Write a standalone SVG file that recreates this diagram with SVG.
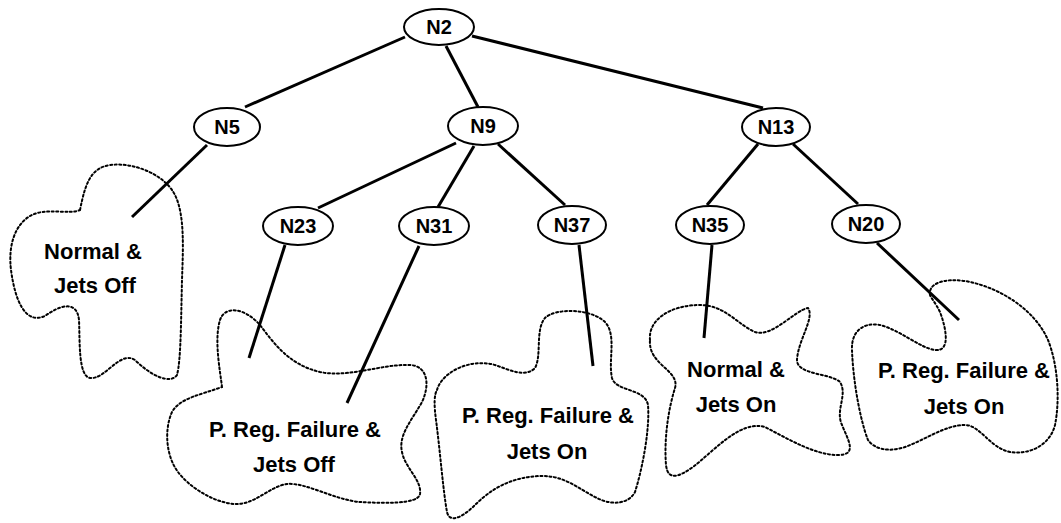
<svg xmlns="http://www.w3.org/2000/svg" width="1061" height="523" viewBox="0 0 1061 523">
<style>
.bg{fill:#fff}
.node ellipse{fill:#fff;stroke:#000;stroke-width:2}
.lbl{font-family:"Liberation Sans",Arial,sans-serif;font-weight:bold;font-size:20px;text-anchor:middle;fill:#000}
.leaf{font-family:"Liberation Sans",Arial,sans-serif;font-weight:bold;font-size:22px;text-anchor:middle;fill:#000}
.blob{fill:none;stroke:#000;stroke-width:2;stroke-dasharray:2 2.5;stroke-linecap:round}
.edge{stroke:#000;stroke-width:3;fill:none}
</style>
<rect class="bg" x="0" y="0" width="1061" height="523"/>
<g id="regions">
  <g id="region-normal-jets-off">
    <path class="blob" d="M80,210 C85,185 90,168 110,165 C135,162 165,175 175,195 C185,215 183,250 182,280 C181,320 181,360 177,375 C170,385 150,375 135,360 C120,350 105,380 90,378 C78,376 80,340 79,320 C77,300 60,305 45,316 C25,325 15,300 11,270 C8,245 15,225 30,216 C45,207 70,215 80,210 Z"/>
    <text class="leaf" x="93" y="259">Normal &amp;</text>
    <text class="leaf" x="95" y="293">Jets Off</text>
  </g>
  <g id="region-preg-jets-off">
    <path class="blob" d="M222,387 C220,370 214,340 220,320 C225,305 245,308 260,325 C275,345 290,365 320,372 C350,378 380,364 410,365 C428,366 430,385 422,402 C412,420 398,435 402,452 C405,468 422,480 420,494 C418,505 380,503 360,502 C335,500 305,482 287,484 C270,486 255,505 235,504 C215,503 190,488 178,472 C166,456 164,430 172,412 C180,398 200,395 222,387 Z"/>
    <text class="leaf" x="295" y="437">P. Reg. Failure &amp;</text>
    <text class="leaf" x="294" y="472">Jets Off</text>
  </g>
  <g id="region-preg-jets-on-1">
    <path class="blob" d="M437,390 C442,372 470,358 495,365 C510,370 525,378 535,368 C542,355 535,330 545,318 C555,308 590,308 605,322 C617,335 608,360 612,378 C616,392 645,388 648,405 C650,430 642,470 635,492 C628,505 610,505 597,498 C580,490 565,475 540,476 C510,477 490,490 475,505 C465,515 450,525 447,512 C443,490 440,450 436,420 C434,405 434,395 437,390 Z"/>
    <text class="leaf" x="548" y="423">P. Reg. Failure &amp;</text>
    <text class="leaf" x="547" y="459">Jets On</text>
  </g>
  <g id="region-normal-jets-on">
    <path class="blob" d="M650,340 C648,320 670,305 700,305 C725,305 738,325 755,332 C772,338 795,310 808,308 C815,318 798,340 797,360 C797,375 830,373 840,382 C848,395 835,410 842,425 C848,440 858,455 838,455 C815,455 790,440 765,427 C740,420 715,450 693,467 C680,476 668,482 666,465 C664,440 668,410 675,388 C680,370 648,365 650,340 Z"/>
    <text class="leaf" x="736" y="377">Normal &amp;</text>
    <text class="leaf" x="736" y="412">Jets On</text>
  </g>
  <g id="region-preg-jets-on-2">
    <path class="blob" d="M930,295 C928,283 945,278 965,281 C1000,287 1035,310 1048,340 C1058,365 1060,400 1055,425 C1050,445 1030,455 1010,452 C990,448 980,425 965,425 C945,425 925,440 905,447 C890,452 875,450 868,440 C860,420 853,380 852,350 C851,330 865,322 880,325 C900,330 920,348 935,350 C952,352 945,325 940,312 C935,302 931,298 930,295 Z"/>
    <text class="leaf" x="964" y="378">P. Reg. Failure &amp;</text>
    <text class="leaf" x="964" y="414">Jets On</text>
  </g>
</g>
<g id="connectors">
  <line class="edge" x1="405" y1="37" x2="245" y2="107"/>
  <line class="edge" x1="446" y1="46" x2="478" y2="107"/>
  <line class="edge" x1="472" y1="36" x2="763" y2="108"/>
  <line class="edge" x1="207" y1="145" x2="132" y2="217"/>
  <line class="edge" x1="456" y1="143" x2="318" y2="208"/>
  <line class="edge" x1="474" y1="146" x2="438" y2="207"/>
  <line class="edge" x1="498" y1="144" x2="565" y2="205"/>
  <line class="edge" x1="758" y1="144" x2="707" y2="205"/>
  <line class="edge" x1="793" y1="144" x2="858" y2="204"/>
  <line class="edge" x1="285" y1="245" x2="249" y2="358"/>
  <line class="edge" x1="419" y1="246" x2="347" y2="403"/>
  <line class="edge" x1="579" y1="245" x2="593" y2="366"/>
  <line class="edge" x1="712" y1="245" x2="704" y2="338"/>
  <line class="edge" x1="877" y1="243" x2="959" y2="320"/>
</g>
<g id="N2" class="node"><ellipse cx="439" cy="27" rx="35" ry="18"/><text class="lbl" x="439" y="34">N2</text></g>
<g id="N5" class="node"><ellipse cx="227" cy="127" rx="33" ry="19"/><text class="lbl" x="227" y="134">N5</text></g>
<g id="N9" class="node"><ellipse cx="483" cy="126" rx="35" ry="19"/><text class="lbl" x="483" y="133">N9</text></g>
<g id="N13" class="node"><ellipse cx="776" cy="127" rx="34" ry="19"/><text class="lbl" x="776" y="134">N13</text></g>
<g id="N23" class="node"><ellipse cx="298" cy="226" rx="35" ry="19"/><text class="lbl" x="298" y="233">N23</text></g>
<g id="N31" class="node"><ellipse cx="434" cy="226" rx="35" ry="19"/><text class="lbl" x="434" y="233">N31</text></g>
<g id="N37" class="node"><ellipse cx="572" cy="225" rx="34" ry="19"/><text class="lbl" x="572" y="232">N37</text></g>
<g id="N35" class="node"><ellipse cx="710" cy="225" rx="34" ry="19"/><text class="lbl" x="710" y="232">N35</text></g>
<g id="N20" class="node"><ellipse cx="866" cy="224" rx="34" ry="19"/><text class="lbl" x="866" y="231">N20</text></g>
</svg>
